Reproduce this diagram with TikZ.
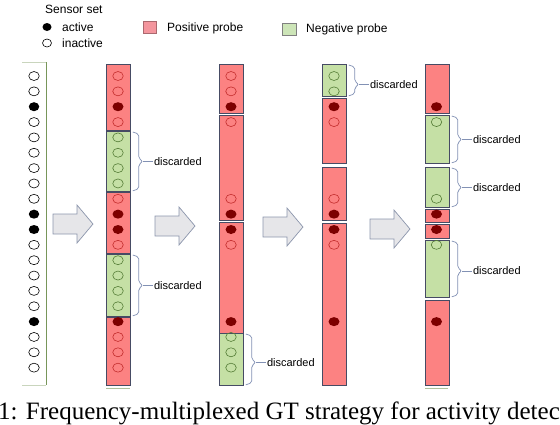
\documentclass[tikz,border=0pt]{standalone}
\usepackage{fontspec}
\setmainfont{Liberation Sans}
\newfontfamily\capfont{Liberation Serif}
\usetikzlibrary{shapes.geometric,calc}
\definecolor{redfill}{RGB}{252,130,130}
\definecolor{greenfill}{RGB}{197,224,165}
\definecolor{segborder}{RGB}{70,75,100}
\definecolor{dotred}{RGB}{125,0,0}
\definecolor{ringred}{RGB}{195,45,45}
\definecolor{ringgreen}{RGB}{85,125,55}
\definecolor{bracecol}{RGB}{130,145,180}
\definecolor{arrowfill}{RGB}{230,230,233}
\definecolor{arrowline}{RGB}{140,150,172}
\definecolor{legred}{RGB}{244,150,158}
\definecolor{leggreen}{RGB}{205,229,184}
\definecolor{colline}{RGB}{120,150,90}
\tikzset{
  redseg/.style={draw=segborder, line width=0.8pt, fill=redfill, minimum width=24pt, inner sep=0pt, anchor=north west},
  greenseg/.style={draw=segborder, line width=0.8pt, fill=greenfill, minimum width=24pt, inner sep=0pt, anchor=north west},
  dotbase/.style={ellipse, minimum width=10.5pt, minimum height=9pt, inner sep=0pt},
  sopen/.style={dotbase, draw=black, line width=0.6pt},
  sfull/.style={dotbase, fill=black},
  ropen/.style={dotbase, draw=ringred, line width=0.6pt},
  gopen/.style={dotbase, draw=ringgreen, line width=0.6pt},
  dfull/.style={dotbase, minimum width=11pt, fill=dotred},
  brc/.style={draw=bracecol, line width=0.7pt, rounded corners=2pt},
  lbl/.style={font=\fontsize{11}{13}\selectfont, inner sep=1pt, anchor=west},
  leg/.style={font=\fontsize{12}{14}\selectfont, inner sep=1pt, anchor=west},
  bigarrow/.style={draw=arrowline, line width=0.7pt, fill=arrowfill},
}
\newcommand\seg[5]{\node[#2, minimum height={(#5-#4)*1pt}] (#1) at (#3,#4) {};}
\newcommand\discard[3]{%
  \draw[brc] ($(#1.north east)+(2,1)$) -- ($(#1.north east)+(8,3)$) -- ($(#1.east)+(8,{#3-3})$) -- ($(#1.east)+(12,#3)$) -- ($(#1.east)+(8,{#3+3})$) -- ($(#1.south east)+(8,-3)$) -- ($(#1.south east)+(2,-1)$);
  \node[lbl] (#2) at ($(#1.east)+(22,#3)$) {discarded};
  \draw[brc] ($(#1.east)+(12,#3)$) -- (#2.west);}
\newcommand\blockarrow[2]{%
  \draw[bigarrow] (#1,#2-10) -- (#1+24,#2-10) -- (#1+24,#2-19) -- (#1+40,#2) -- (#1+24,#2+19) -- (#1+24,#2+10) -- (#1,#2+10) -- cycle;}
\newcommand\sy[1]{76+(#1-1)*15.35}
\begin{document}
\begin{tikzpicture}[x=1pt,y=-1pt]
\useasboundingbox (0,0) rectangle (560,424);
% legend
\node[leg] (lset) at (44,9) {Sensor set};
\node[sfull, minimum width=9pt, minimum height=8pt] (lact) at (47,27) {};
\node[leg] (lacttxt) at (61,27) {active};
\node[sopen, minimum width=9pt, minimum height=8pt] (linact) at (47,43) {};
\node[leg] (linacttxt) at (61,43) {inactive};
\node[draw=legred!70!black, line width=0.5pt, fill=legred, minimum width=13pt, minimum height=12pt, inner sep=0pt] (lpos) at (149.5,27.5) {};
\node[leg] (lpostxt) at (166,28) {Positive probe};
\node[draw=gray, line width=0.5pt, fill=leggreen, minimum width=14pt, minimum height=12pt, inner sep=0pt] (lneg) at (289,29) {};
\node[leg] (lnegtxt) at (305,29) {Negative probe};
% column 1: sensor set
\node[minimum width=24pt, minimum height=323pt, inner sep=0pt, anchor=north west] (c1) at (22,62) {};
\draw[colline, line width=0.7pt] (c1.north east) -- (c1.south east);
\draw[colline!40, line width=0.5pt] (c1.north west) -- (c1.north east);
\draw[colline!40, line width=0.5pt] (c1.south west) -- (c1.south east);
\foreach \i/\s in {1/sopen,2/sopen,3/sfull,4/sopen,5/sopen,6/sopen,7/sopen,8/sopen,9/sopen,10/sfull,11/sfull,12/sopen,13/sopen,14/sopen,15/sopen,16/sopen,17/sfull,18/sopen,19/sopen,20/sopen}
  \node[\s] (a\i) at (34,{\sy{\i}}) {};
% column 2
\seg{c2a}{redseg}{106}{64}{130}
\seg{c2b}{greenseg}{106}{131}{191}
\seg{c2c}{redseg}{106}{192}{253}
\seg{c2d}{greenseg}{106}{254}{316}
\seg{c2e}{redseg}{106}{317}{385}
\draw[colline!60, line width=0.6pt] (c2e.south west) ++(0,2) -- ++(24,0);
\foreach \i/\s in {1/ropen,2/ropen,3/dfull,4/ropen,5/gopen,6/gopen,7/gopen,8/gopen,9/ropen,10/dfull,11/dfull,12/ropen,13/gopen,14/gopen,15/gopen,16/gopen,17/dfull,18/ropen,19/ropen,20/ropen}
  \node[\s] (b\i) at (118,{\sy{\i}}) {};
\discard{c2b}{d2a}{0}
\discard{c2d}{d2b}{0}
% column 3
\seg{c3a}{redseg}{219}{64}{113}
\seg{c3b}{redseg}{219}{115}{220}
\seg{c3c}{redseg}{219}{222}{333}
\seg{c3d}{greenseg}{219}{333}{385}
\foreach \i/\s in {1/ropen,2/ropen,3/dfull,4/ropen,9/ropen,10/dfull,11/dfull,12/ropen,17/dfull,18/gopen,19/gopen,20/gopen}
  \node[\s] (c\i) at (231,{\sy{\i}}) {};
\discard{c3d}{d3}{3}
% column 4
\seg{c4a}{greenseg}{322}{64}{96}
\seg{c4b}{redseg}{322}{98}{163}
\seg{c4c}{redseg}{322}{167}{220}
\seg{c4d}{redseg}{322}{223}{385}
\foreach \i/\s in {1/gopen,2/gopen,3/dfull,4/ropen,9/ropen,10/dfull,11/dfull,12/ropen,17/dfull}
  \node[\s] (e\i) at (334,{\sy{\i}}) {};
\discard{c4a}{d4}{4}
% column 5
\seg{c5a}{redseg}{425}{64}{113}
\seg{c5b}{greenseg}{425}{115}{163}
\seg{c5c}{greenseg}{425}{167}{207}
\seg{c5d}{redseg}{425}{209}{222}
\seg{c5e}{redseg}{425}{224}{238}
\seg{c5f}{greenseg}{425}{240}{297}
\seg{c5g}{redseg}{425}{300}{385}
\draw[colline!60, line width=0.6pt] (c5g.south west) ++(0,2) -- ++(23,0);
\foreach \i/\s in {3/dfull,4/gopen,9/gopen,10/dfull,11/dfull,12/gopen,17/dfull}
  \node[\s] (f\i) at (436.5,{\sy{\i}}) {};
\discard{c5b}{d5a}{0}
\discard{c5c}{d5b}{0}
\discard{c5f}{d5c}{2}
% arrows
\blockarrow{53}{224}
\blockarrow{155}{226}
\blockarrow{263}{227}
\blockarrow{370}{229}
% caption (cut by the picture's border, as in the reference)
\begin{scope}
\clip (0,0) rectangle (560,424);
\node[font=\capfont\fontsize{25}{28}\selectfont, inner sep=0pt, anchor=base west] (cap) at (-2,419) {1: Frequency-multiplexed GT strategy for activity detec};
\end{scope}
\end{tikzpicture}
\end{document}
